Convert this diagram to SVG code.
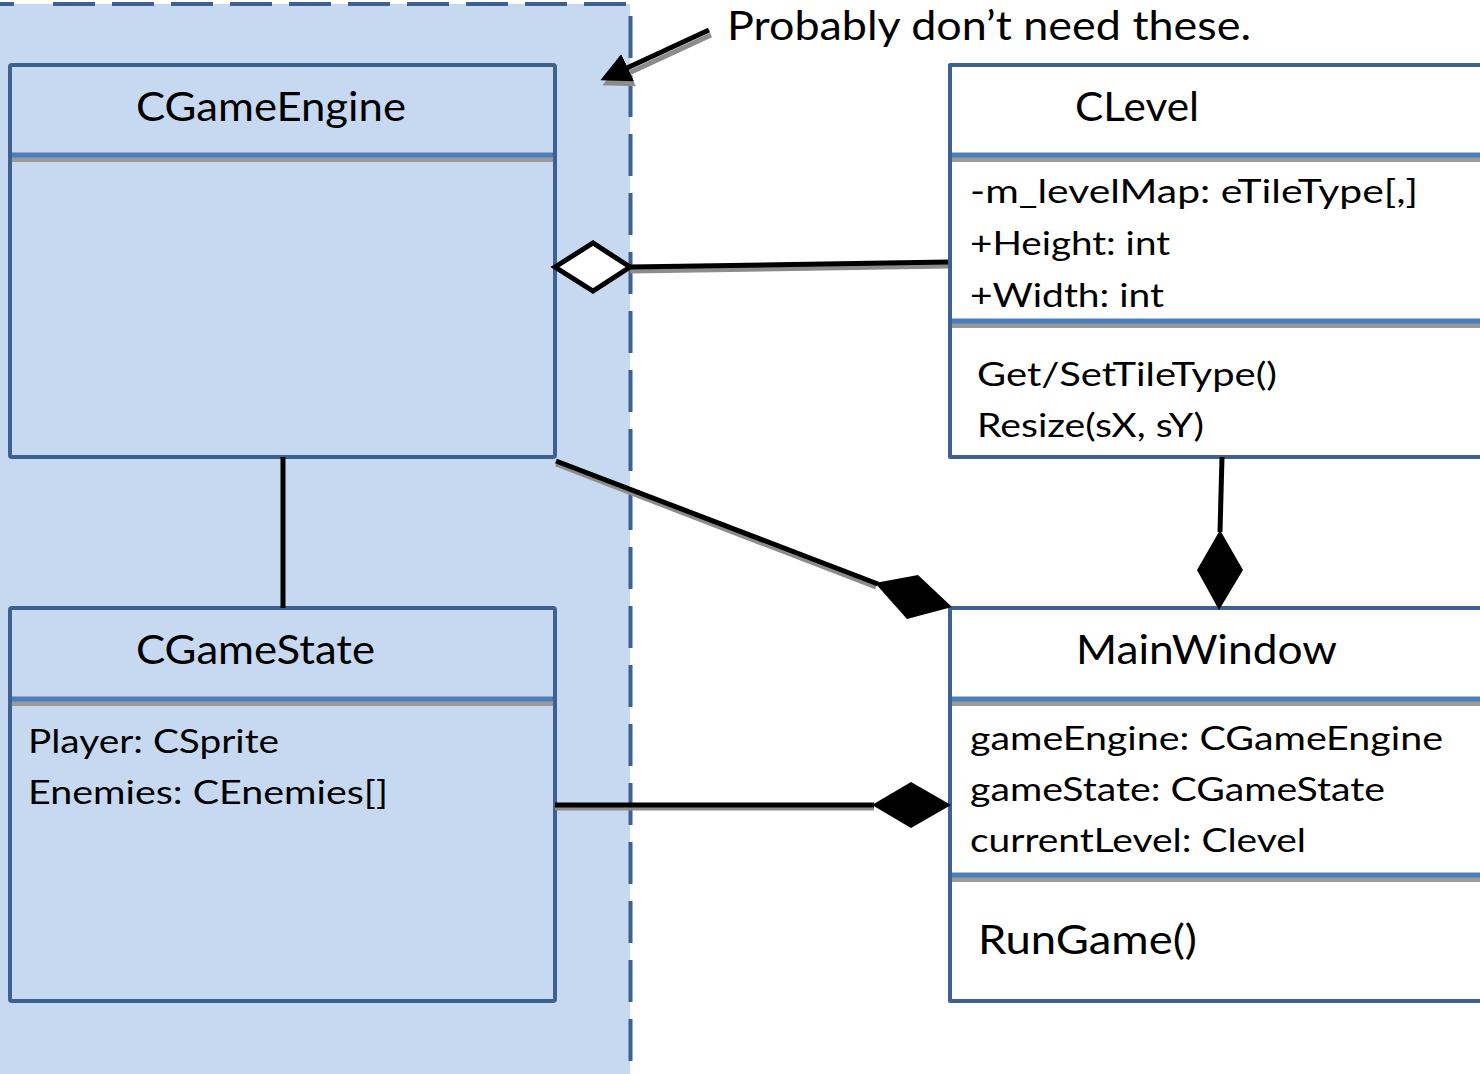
<svg xmlns="http://www.w3.org/2000/svg" width="1480" height="1074" viewBox="0 0 1480 1074">
  <style>
    text { font-family: Lato, "Open Sans", "Liberation Sans", sans-serif; fill: #000; }
    .title { font-size: 40px; text-anchor: middle; }
    .attr { font-size: 33px; }
    .big { font-size: 40px; }
    .box { fill: none; stroke: #3d6190; stroke-width: 4; stroke-linejoin: round; }
    .div { stroke: #4a7ebb; stroke-width: 5; }
    .divsh { stroke: #9a9a9a; stroke-width: 5; }
    .edge { stroke: #000; stroke-width: 5; fill: none; }
    .shadow { stroke: #8c8c8c; stroke-width: 5; fill: none; }
    .dash { stroke: #3d6190; stroke-width: 4; fill: none; stroke-dasharray: 42 17; }
  </style>
  <defs>
    <marker id="head" markerWidth="7" markerHeight="7" refX="3" refY="3.5" orient="auto" markerUnits="strokeWidth">
      <path d="M0,0.5 L6,3.5 L0,6.5 z" fill="#000"/>
    </marker>
    <marker id="headsh" markerWidth="7" markerHeight="7" refX="3" refY="3.5" orient="auto" markerUnits="strokeWidth">
      <path d="M0,0.5 L6,3.5 L0,6.5 z" fill="#8c8c8c"/>
    </marker>
  </defs>

  <rect width="1480" height="1074" fill="#fff"/>

  <!-- package region with dashed boundary -->
  <g id="package">
    <rect x="0" y="4" width="630" height="1070" fill="#c6d9f0"/>
    <line x1="0" y1="4" x2="14" y2="4" stroke="#3d6190" stroke-width="4"/>
    <line class="dash" x1="53" y1="4" x2="630" y2="4"/>
    <line class="dash" x1="630.5" y1="16" x2="630.5" y2="1074"/>
  </g>

  <g id="note">
    <line class="shadow" x1="711" y1="35" x2="616" y2="79" marker-end="url(#headsh)"/>
    <line class="edge" x1="709" y1="30" x2="614" y2="74" marker-end="url(#head)"/>
    <text x="727" y="40" class="big" textLength="524" lengthAdjust="spacingAndGlyphs">Probably don’t need these.</text>
  </g>

  <g id="CGameEngine">
    <rect class="box" x="10" y="65" width="545" height="392" rx="2"/>
    <line class="divsh" x1="12" y1="159.5" x2="553" y2="159.5"/>
    <line class="div" x1="12" y1="155" x2="553" y2="155"/>
    <text x="271" y="121" class="title" textLength="270" lengthAdjust="spacingAndGlyphs">CGameEngine</text>
  </g>

  <g id="CGameState">
    <rect class="box" x="10" y="608" width="545" height="393" rx="2"/>
    <line class="divsh" x1="12" y1="703.5" x2="553" y2="703.5"/>
    <line class="div" x1="12" y1="699" x2="553" y2="699"/>
    <text x="255.5" y="664" class="title" textLength="239" lengthAdjust="spacingAndGlyphs">CGameState</text>
    <text x="28" y="753" class="attr" textLength="251" lengthAdjust="spacingAndGlyphs">Player: CSprite</text>
    <text x="28" y="804" class="attr" textLength="360" lengthAdjust="spacingAndGlyphs">Enemies: CEnemies[]</text>
  </g>

  <g id="CLevel">
    <rect class="box" x="950" y="65" width="540" height="392"/>
    <line class="divsh" x1="952" y1="159.5" x2="1480" y2="159.5"/>
    <line class="div" x1="952" y1="155" x2="1480" y2="155"/>
    <line class="divsh" x1="952" y1="325.5" x2="1480" y2="325.5"/>
    <line class="div" x1="952" y1="321" x2="1480" y2="321"/>
    <text x="1137" y="121" class="title" textLength="124" lengthAdjust="spacingAndGlyphs">CLevel</text>
    <text x="970" y="203" class="attr" textLength="448" lengthAdjust="spacingAndGlyphs">-m_levelMap: eTileType[,]</text>
    <text x="970" y="255" class="attr" textLength="200" lengthAdjust="spacingAndGlyphs">+Height: int</text>
    <text x="970" y="307" class="attr" textLength="194" lengthAdjust="spacingAndGlyphs">+Width: int</text>
    <text x="977" y="386" class="attr" textLength="300" lengthAdjust="spacingAndGlyphs">Get/SetTileType()</text>
    <text x="977" y="437" class="attr" textLength="227" lengthAdjust="spacingAndGlyphs">Resize(sX, sY)</text>
  </g>

  <g id="MainWindow">
    <rect class="box" x="950" y="608" width="540" height="393"/>
    <line class="divsh" x1="952" y1="703.5" x2="1480" y2="703.5"/>
    <line class="div" x1="952" y1="699" x2="1480" y2="699"/>
    <line class="divsh" x1="952" y1="879.5" x2="1480" y2="879.5"/>
    <line class="div" x1="952" y1="875" x2="1480" y2="875"/>
    <text x="1206.5" y="664" class="title" textLength="261" lengthAdjust="spacingAndGlyphs">MainWindow</text>
    <text x="970" y="750" class="attr" textLength="473" lengthAdjust="spacingAndGlyphs">gameEngine: CGameEngine</text>
    <text x="970" y="801" class="attr" textLength="415" lengthAdjust="spacingAndGlyphs">gameState: CGameState</text>
    <text x="970" y="852" class="attr" textLength="336" lengthAdjust="spacingAndGlyphs">currentLevel: Clevel</text>
    <text x="978" y="954" class="big" textLength="219" lengthAdjust="spacingAndGlyphs">RunGame()</text>
  </g>

  <g id="connectors">
    <!-- CLevel aggregated by CGameEngine -->
    <line class="shadow" x1="630" y1="271" x2="948" y2="266"/>
    <line class="edge" x1="630" y1="267" x2="948" y2="262"/>
    <polygon points="555,267 593,243 630,267 593,291" fill="#fff" stroke="#000" stroke-width="5" stroke-linejoin="miter"/>

    <!-- CGameEngine to CGameState -->
    <line class="edge" x1="283" y1="457" x2="283" y2="608" stroke-width="4"/>

    <!-- MainWindow composes CGameEngine -->
    <line class="shadow" x1="556" y1="464" x2="876" y2="587"/>
    <line class="edge" x1="556" y1="461" x2="878" y2="584"/>
    <polygon points="875,583 918,575 952,607 907,619" fill="#000"/>

    <!-- MainWindow composes CLevel -->
    <line class="edge" x1="1222" y1="457" x2="1220" y2="532"/>
    <polygon points="1220,530 1243,570 1219,610 1197,570" fill="#000"/>

    <!-- MainWindow composes CGameState -->
    <line class="shadow" x1="555" y1="808" x2="874" y2="808"/>
    <line class="edge" x1="555" y1="805" x2="874" y2="805"/>
    <polygon points="872,805 911,782 951,805 911,828" fill="#000"/>
  </g>
</svg>
